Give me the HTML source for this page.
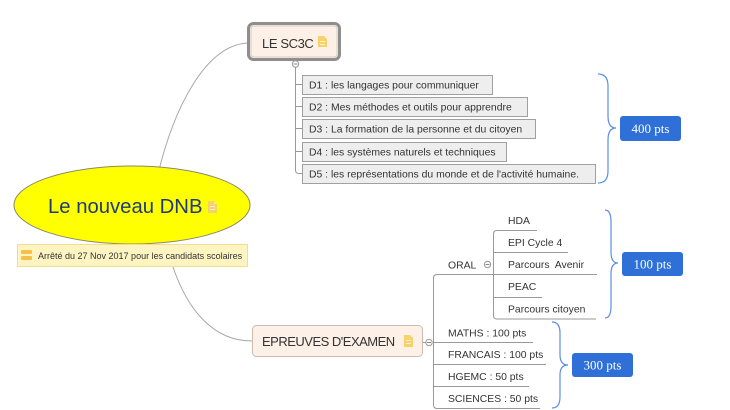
<!DOCTYPE html>
<html><head><meta charset="utf-8"><style>
html,body{margin:0;padding:0;background:#fff;}
svg{display:block;}
text{font-family:"Liberation Sans",sans-serif;}
.t{font-size:10.4px;fill:#333;}
.pts{font-family:"Liberation Serif",serif;font-size:13px;fill:#fff;}
</style></head><body>
<svg width="730" height="410" viewBox="0 0 730 410" xmlns="http://www.w3.org/2000/svg">
<rect width="730" height="410" fill="#fff"/>
<!-- main connectors -->
<path d="M159,170 C174,110 205,43 250,43" fill="none" stroke="#a8a8a8" stroke-width="1"/>
<path d="M173,267 C186,305 210,341 252,341" fill="none" stroke="#a8a8a8" stroke-width="1"/>

<!-- central ellipse -->
<ellipse cx="132" cy="205" rx="118" ry="39" fill="#ffff00" stroke="#8a8a6a" stroke-width="1"/>
<text x="48" y="213" style="font-size:20.3px;fill:#1f3a7a">Le nouveau DNB</text>
<g transform="translate(208,201)">
<path d="M0,0 H6 L9,3 V12 H0 Z" fill="#f7d26a"/>
<path d="M6,0 V3 H9" fill="#fbe7a8"/>
<rect x="2" y="5" width="5" height="1" fill="#fff3c8"/><rect x="2" y="8" width="5" height="1" fill="#fff3c8"/>
</g>

<!-- note -->
<rect x="17.5" y="244.5" width="230" height="22" fill="#fef4c2" stroke="#f1df8e"/>
<rect x="21" y="250" width="11" height="4" rx="1" fill="#f5c04a"/>
<rect x="21" y="256" width="11" height="4" rx="1" fill="#f5c04a"/>
<text x="38" y="259" style="font-size:9px;fill:#333">Arrêté du 27 Nov 2017 pour les candidats scolaires</text>

<!-- LE SC3C -->
<rect x="248.5" y="23.5" width="91" height="36" rx="5" fill="#fdf0e6" stroke="#8e8e8e" stroke-width="3"/>
<rect x="251" y="26" width="86" height="31" rx="3" fill="none" stroke="#d8cbbf" stroke-width="1"/>
<text x="262" y="48" style="font-size:13px;fill:#333;letter-spacing:-0.4px">LE SC3C</text>
<g transform="translate(318,36)">
<path d="M0,0 H6 L9,3 V11 H0 Z" fill="#f7d26a"/>
<rect x="2" y="5" width="5" height="1" fill="#fff3c8"/><rect x="2" y="8" width="5" height="1" fill="#fff3c8"/>
</g>
<!-- D connectors -->
<path d="M295.5,67 V170 Q295.5,173.5 299,173.5 H302" fill="none" stroke="#999"/>
<path d="M295.5,84.5 H302 M295.5,106.5 H302 M295.5,128.5 H302 M295.5,151.5 H302" fill="none" stroke="#999"/>
<circle cx="295.5" cy="64" r="3.2" fill="#fff" stroke="#999"/>
<line x1="293.5" y1="64" x2="297.5" y2="64" stroke="#888"/>
<!-- D boxes -->
<rect x="302.5" y="75.5" width="190" height="19" fill="#eeeeee" stroke="#a0a0a0"/>
<rect x="302.5" y="97.5" width="225" height="19" fill="#eeeeee" stroke="#a0a0a0"/>
<rect x="302.5" y="119.5" width="233" height="19" fill="#eeeeee" stroke="#a0a0a0"/>
<rect x="302.5" y="142.5" width="204" height="19" fill="#eeeeee" stroke="#a0a0a0"/>
<rect x="302.5" y="164.5" width="293" height="19" fill="#eeeeee" stroke="#a0a0a0"/>
<text class="t" x="309" y="88.5">D1 : les langages pour communiquer</text>
<text class="t" x="309" y="110.5">D2 : Mes méthodes et outils pour apprendre</text>
<text class="t" x="309" y="132.5">D3 : La formation de la personne et du citoyen</text>
<text class="t" x="309" y="155.5">D4 : les systèmes naturels et techniques</text>
<text class="t" x="309" y="177.5">D5 : les représentations du monde et de l'activité humaine.</text>

<!-- brace 400 -->
<path d="M598,74 Q608,74 608,86 L608,116 Q608,128 616,128 Q608,128 608,140 L608,171 Q608,183 598,183" fill="none" stroke="#5a8fe6" stroke-width="1.2"/>
<rect x="620" y="116" width="61" height="25" rx="3" fill="#2f6fd8"/>
<text class="pts" x="650.5" y="133" text-anchor="middle">400 pts</text>

<!-- EPREUVES -->
<rect x="252.5" y="325.5" width="170" height="31" rx="4" fill="#fdf0e6" stroke="#c9bcb0"/>
<text x="262" y="346" style="font-size:13px;fill:#333;letter-spacing:-0.5px">EPREUVES D'EXAMEN</text>
<g transform="translate(404,335)">
<path d="M0,0 H6 L9,3 V12 H0 Z" fill="#f7d26a"/>
<rect x="2" y="5" width="5" height="1" fill="#fff3c8"/><rect x="2" y="8" width="5" height="1" fill="#fff3c8"/>
</g>
<line x1="423" y1="342.5" x2="426" y2="342.5" stroke="#999"/>

<!-- exam tree -->
<path d="M433.5,404 V278 Q433.5,274.5 437,274.5 H597" fill="none" stroke="#999"/>
<path d="M433.5,400 V404.5 Q433.5,408.5 437,408.5 H540" fill="none" stroke="#999"/>
<path d="M433.5,342.5 H533 M433.5,364.5 H546 M433.5,386.5 H529" fill="none" stroke="#999"/>
<circle cx="429" cy="342.5" r="3.2" fill="#fff" stroke="#999"/>
<line x1="427" y1="342.5" x2="431" y2="342.5" stroke="#888"/>
<text class="t" x="448" y="336.5">MATHS : 100 pts</text>
<text class="t" x="448" y="358">FRANCAIS : 100 pts</text>
<text class="t" x="448" y="380">HGEMC : 50 pts</text>
<text class="t" x="448" y="402">SCIENCES : 50 pts</text>

<!-- ORAL -->
<text class="t" x="448" y="268.5">ORAL</text>
<circle cx="487.5" cy="264.5" r="3.2" fill="#fff" stroke="#999"/>
<line x1="485.5" y1="264.5" x2="489.5" y2="264.5" stroke="#888"/>
<path d="M537,230.5 H497 Q493.5,230.5 493.5,234 V315.5 Q493.5,319 497,319 H596" fill="none" stroke="#999"/>
<path d="M493.5,252.5 H568 M493.5,297.5 H542" fill="none" stroke="#999"/>
<text class="t" x="508" y="224">HDA</text>
<text class="t" x="508" y="246">EPI Cycle 4</text>
<text class="t" x="508" y="268" xml:space="preserve">Parcours  Avenir</text>
<text class="t" x="508" y="290">PEAC</text>
<text class="t" x="508" y="312.5">Parcours citoyen</text>

<!-- brace 100 -->
<path d="M605,210 Q611,210 611,222 L611,252 Q611,263 618,263 Q611,263 611,274 L611,306 Q611,318 605,318" fill="none" stroke="#5a8fe6" stroke-width="1.2"/>
<rect x="622" y="252" width="61" height="24" rx="3" fill="#2f6fd8"/>
<text class="pts" x="652.5" y="268.5" text-anchor="middle">100 pts</text>

<!-- brace 300 -->
<path d="M552,322 Q560,322 560,333 L560,355 Q560,365 568,365 Q560,365 560,375 L560,397 Q560,408 552,408" fill="none" stroke="#5a8fe6" stroke-width="1.2"/>
<rect x="572" y="353" width="61" height="24" rx="3" fill="#2f6fd8"/>
<text class="pts" x="602.5" y="369.5" text-anchor="middle">300 pts</text>
</svg>
</body></html>
